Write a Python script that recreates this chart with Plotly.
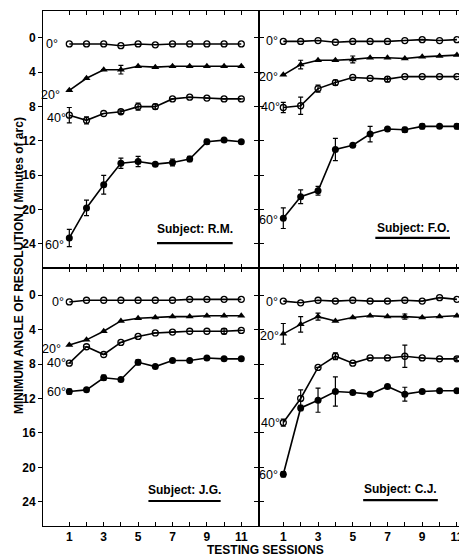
import plotly.graph_objects as go

sessions = [1, 2, 3, 4, 5, 6, 7, 8, 9, 10, 11]

RM_0 = [0.7, 0.7, 0.7, 0.9, 0.7, 0.8, 0.7, 0.7, 0.7, 0.7, 0.7]
RM_20 = [6.1, 4.7, 3.7, 3.7, 3.3, 3.4, 3.3, 3.3, 3.3, 3.3, 3.3]
RM_20_err = [0, 0, 0, 0.5, 0, 0, 0, 0, 0, 0, 0]
RM_40 = [9.0, 9.6, 8.8, 8.6, 8.0, 8.0, 7.1, 6.9, 7.0, 7.1, 7.1]
RM_40_err = [0.9, 0.4, 0, 0.2, 0.4, 0.3, 0, 0, 0, 0, 0]
RM_60 = [23.3, 19.8, 17.1, 14.6, 14.4, 14.7, 14.5, 14.1, 12.1, 11.9, 12.1]
RM_60_err = [1.0, 0.9, 1.1, 0.6, 0.6, 0, 0.4, 0.3, 0.3, 0, 0]

FO_0 = [0.4, 0.4, 0.3, 0.5, 0.4, 0.4, 0.4, 0.3, 0.2, 0.3, 0.2]
FO_20 = [4.3, 3.1, 2.6, 2.6, 2.5, 2.3, 2.3, 2.4, 2.2, 2.1, 2.0]
FO_20_err = [0, 0.5, 0, 0, 0.4, 0, 0, 0, 0, 0, 0]
FO_40 = [8.1, 7.9, 5.9, 5.2, 4.6, 4.7, 4.8, 4.5, 4.5, 4.5, 4.5]
FO_40_err = [0.6, 1.0, 0.4, 0.3, 0, 0, 0.3, 0, 0, 0, 0]
FO_60 = [21.0, 18.5, 17.8, 13.0, 12.5, 11.2, 10.6, 10.7, 10.3, 10.3, 10.3]
FO_60_err = [1.2, 0.8, 0.5, 1.3, 0, 0.9, 0, 0.3, 0.3, 0, 0.3]

JG_0 = [0.8, 0.6, 0.6, 0.6, 0.6, 0.6, 0.6, 0.5, 0.5, 0.5, 0.5]
JG_20 = [5.8, 5.2, 4.2, 3.0, 2.7, 2.6, 2.5, 2.5, 2.4, 2.4, 2.4]
JG_40 = [7.9, 6.0, 6.9, 5.5, 4.8, 4.4, 4.3, 4.2, 4.2, 4.2, 4.1]
JG_40_err = [0, 0, 0, 0, 0, 0, 0, 0, 0, 0.3, 0]
JG_60 = [11.2, 11.0, 9.6, 9.8, 7.8, 8.3, 7.6, 7.6, 7.3, 7.4, 7.4]
JG_60_err = [0.3, 0, 0.3, 0, 0.3, 0, 0, 0, 0, 0, 0]

CJ_0 = [0.7, 0.9, 0.6, 0.7, 0.6, 0.7, 0.7, 0.6, 0.7, 0.3, 0.5]
CJ_20 = [4.5, 3.4, 2.5, 3.0, 2.6, 2.4, 2.5, 2.5, 2.6, 2.5, 2.4]
CJ_20_err = [1.2, 0.9, 0.4, 0, 0, 0, 0, 0.3, 0, 0, 0]
CJ_40 = [14.8, 12.0, 8.4, 7.1, 7.9, 7.3, 7.3, 7.1, 7.3, 7.4, 7.4]
CJ_40_err = [0.4, 1.0, 0, 0.4, 0, 0, 0, 1.3, 0, 0, 0.2]
CJ_60 = [20.8, 13.1, 12.2, 11.2, 11.3, 11.5, 10.6, 11.5, 11.2, 11.1, 11.1]
CJ_60_err = [0.3, 0.3, 1.4, 1.7, 0, 0, 0, 0.8, 0, 0, 0]

y_ticks = [0, 4, 8, 12, 16, 20, 24]
x_ticktext = ["1", "", "3", "", "5", "", "7", "", "9", "", "11"]
angle_labels = ["0°", "20°", "40°", "60°"]

FONT = "Liberation Sans Narrow, Liberation Sans, Arial"

panels = [
    dict(name="R.M.", ax=("x", "y"), series=[(RM_0, None), (RM_20, RM_20_err), (RM_40, RM_40_err), (RM_60, RM_60_err)],
         labels=[(0.45, 0.7), (0.58, 6.6), (0.9, 9.3), (0.8, 24.1)], subj=(8.3, 22.3, 6.1, 10.5, 23.9)),
    dict(name="F.O.", ax=("x2", "y2"), series=[(FO_0, None), (FO_20, FO_20_err), (FO_40, FO_40_err), (FO_60, FO_60_err)],
         labels=[(0.8, 0.4), (0.82, 4.6), (0.95, 8.1), (0.82, 21.2)], subj=(8.5, 22.1, 6.3, 10.6, 23.3)),
    dict(name="J.G.", ax=("x3", "y3"), series=[(JG_0, None), (JG_20, None), (JG_40, JG_40_err), (JG_60, JG_60_err)],
         labels=[(0.8, 0.85), (0.65, 6.3), (0.92, 7.9), (0.92, 11.3)], subj=(7.7, 22.6, 5.6, 9.8, 23.9)),
    dict(name="C.J.", ax=("x4", "y4"), series=[(CJ_0, None), (CJ_20, CJ_20_err), (CJ_40, CJ_40_err), (CJ_60, CJ_60_err)],
         labels=[(0.8, 0.75), (0.85, 4.7), (0.95, 14.9), (0.8, 20.9)], subj=(7.75, 22.5, 5.6, 9.9, 23.8)),
]

markers = [
    dict(symbol="circle-open", size=6, color="black", line=dict(width=1.3, color="black")),
    dict(symbol="triangle-up", size=7, color="black"),
    dict(symbol="circle-open", size=6, color="black", line=dict(width=1.3, color="black")),
    dict(symbol="circle", size=7, color="black"),
]

fig = go.Figure()
annotations = []
shapes = []
for p in panels:
    xa, ya = p["ax"]
    for i, (vals, err) in enumerate(p["series"]):
        kw = {}
        if err is not None:
            kw["error_y"] = dict(type="data", array=err, visible=True, color="black", thickness=1.2, width=2.5)
        fig.add_trace(go.Scatter(
            x=sessions, y=vals, xaxis=xa, yaxis=ya, mode="lines+markers",
            line=dict(color="black", width=1.6), marker=markers[i], showlegend=False, **kw))
    for lab, (lx, ly) in zip(angle_labels, p["labels"]):
        annotations.append(dict(x=lx, y=ly, xref=xa, yref=ya, text=lab, showarrow=False,
                                xanchor="right", yanchor="middle",
                                font=dict(family=FONT, size=12.5, color="#000000")))
    sx, sy, u0, u1, uy = p["subj"]
    annotations.append(dict(x=sx, y=sy, xref=xa, yref=ya, text="<b>Subject: " + p["name"] + "</b>",
                            showarrow=False, xanchor="center", yanchor="middle",
                            font=dict(family=FONT, size=12, color="black")))
    shapes.append(dict(type="line", xref=xa, yref=ya, x0=u0, x1=u1, y0=uy, y1=uy,
                       line=dict(color="black", width=2.2)))

# page has an 8px body margin: figure is drawn at (8, 8) in the window
OFF = 8
W, H = 467 - OFF, 558 - OFF


def px_x(v):
    return (v - OFF) / W


def px_y(v):
    return 1 - (v - OFF) / H


annotations.append(dict(x=px_x(19), y=px_y(266), xref="paper", yref="paper",
                        text="<b>MINIMUM ANGLE OF RESOLUTION ( Minutes of arc)</b>",
                        textangle=-90, showarrow=False, xanchor="center", yanchor="middle",
                        font=dict(family=FONT, size=12, color="black")))
annotations.append(dict(x=px_x(265), y=px_y(550), xref="paper", yref="paper",
                        text="<b>TESTING SESSIONS</b>", showarrow=False, xanchor="center", yanchor="middle",
                        font=dict(family=FONT, size=12, color="black")))

xl = [px_x(43), px_x(259)]
xr = [px_x(259), px_x(467)]
yt = [px_y(268), px_y(11)]
yb = [px_y(526), px_y(268)]

common_x = dict(tickvals=sessions, ticks="inside", ticklen=4, tickwidth=1.2, tickcolor="black",
                showline=True, linecolor="black", linewidth=1, mirror="ticks", showgrid=False,
                zeroline=False, ticklabeloverflow="allow",
                tickfont=dict(family=FONT, size=12, color="black", weight="bold"))
common_y = dict(tickvals=y_ticks, ticks="outside", ticklen=4, tickwidth=1.2, tickcolor="black",
                showline=True, linecolor="black", linewidth=1, showgrid=False, zeroline=False,
                range=[26.8, -3.14], tickfont=dict(family=FONT, size=12, color="black", weight="bold"))

fig.update_layout(
    width=W, height=H, margin=dict(l=0, r=0, t=0, b=0),
    paper_bgcolor="white", plot_bgcolor="white",
    xaxis=dict(domain=xl, anchor="y", range=[-0.53, 12.03], showticklabels=False, **common_x),
    yaxis=dict(domain=yt, anchor="x", mirror="ticks", **common_y),
    xaxis2=dict(domain=xr, anchor="y2", range=[-0.4, 11.58], showticklabels=False, **common_x),
    yaxis2=dict(domain=yt, anchor="x2", showticklabels=False, **common_y),
    xaxis3=dict(domain=xl, anchor="y3", range=[-0.53, 12.03], ticktext=x_ticktext, **common_x),
    yaxis3=dict(domain=yb, anchor="x3", mirror="ticks", **common_y),
    xaxis4=dict(domain=xr, anchor="y4", range=[-0.4, 11.58], ticktext=x_ticktext, **common_x),
    yaxis4=dict(domain=yb, anchor="x4", showticklabels=False, **common_y),
    annotations=annotations, shapes=shapes,
)

fig.write_html("out.html")
